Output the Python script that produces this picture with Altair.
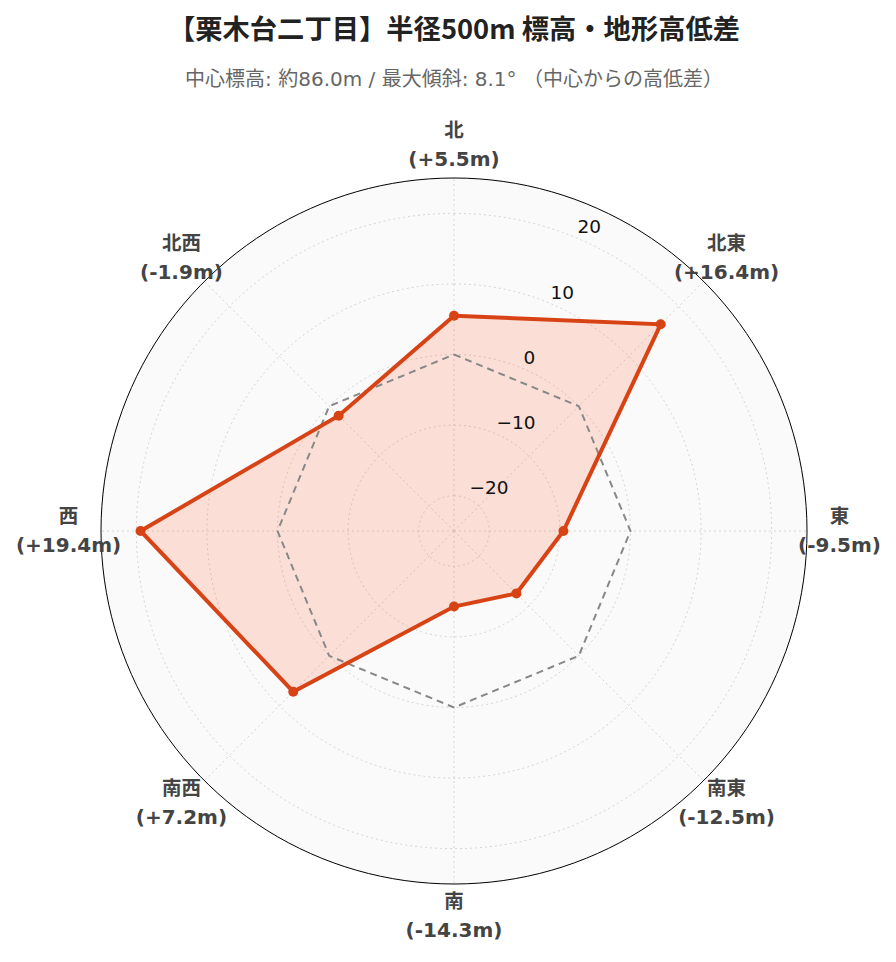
import altair as alt
import numpy as np
import pandas as pd

TITLE = "【栗木台二丁目】半径500m 標高・地形高低差"
SUBTITLE = "中心標高: 約86.0m / 最大傾斜: 8.1° （中心からの高低差）"

directions = ["北", "北東", "東", "南東", "南", "南西", "西", "北西"]
bearings = [0, 45, 90, 135, 180, 225, 270, 315]
diffs = [5.5, 16.4, -9.5, -12.5, -14.3, 7.2, 19.4, -1.9]
tick_values = [-20, -10, 0, 10, 20]
tick_labels = ["−20", "−10", "0", "10", "20"]
r_min, r_max = -25, 25
tick_bearing = 22.5
label_offset = 4.6

FONT = "Verdana, DejaVu Sans, Noto Sans CJK JP"
CJK = "Noto Sans CJK JP"
RED = "#D84315"

span = r_max - r_min
xs = alt.Scale(domain=[-span, span], nice=False, zero=False)
ys = alt.Scale(domain=[-span, span], nice=False, zero=False)

XY = "datum.dist * sin(datum.bearing * PI / 180)"
YY = "datum.dist * cos(datum.bearing * PI / 180)"


def xy(chart):
    return chart.transform_calculate(x=XY, y=YY)


enc_x = alt.X("x:Q", scale=xs, axis=None)
enc_y = alt.Y("y:Q", scale=ys, axis=None)

# radar data (closed)
radar = pd.DataFrame({
    "i": list(range(len(directions) + 1)),
    "bearing": bearings + [bearings[0]],
    "dist": [d - r_min for d in diffs + [diffs[0]]],
})
points = radar.iloc[:-1]

zero_ring = pd.DataFrame({
    "i": list(range(len(directions) + 1)),
    "bearing": bearings + [bearings[0]],
    "dist": [0 - r_min] * (len(directions) + 1),
})

# rings
ang = np.arange(0, 361, 2)
rings = pd.concat([
    pd.DataFrame({"ring": v, "bearing": ang, "dist": v - r_min}) for v in tick_values
])
outer = pd.DataFrame({"bearing": ang, "dist": span})

spokes = pd.DataFrame({"bearing": bearings, "dist": span})

labels = pd.DataFrame({
    "bearing": bearings,
    "dist": span + label_offset,
    "name": directions,
    "value": [f"({'+' if v >= 0 else ''}{v:.1f}m)" for v in diffs],
})

ticks = pd.DataFrame({
    "bearing": tick_bearing,
    "dist": [v - r_min for v in tick_values],
    "label": tick_labels,
})

background = xy(alt.Chart(outer)).mark_line(
    fill="#fafafa", stroke="black", strokeWidth=1
).encode(x=enc_x, y=enc_y, order=alt.Order("bearing:Q"))

ring_lines = xy(alt.Chart(rings)).mark_line(
    stroke="#d6d6d6", strokeWidth=1, strokeDash=[2, 3]
).encode(x=enc_x, y=enc_y, detail="ring:N", order=alt.Order("bearing:Q"))

spoke_lines = xy(alt.Chart(spokes)).mark_rule(
    stroke="#d6d6d6", strokeWidth=1, strokeDash=[2, 3]
).encode(x=alt.X("zero:Q", scale=xs, axis=None), y=alt.Y("zero:Q", scale=ys, axis=None),
         x2="x:Q", y2="y:Q").transform_calculate(zero="0")

fill_poly = xy(alt.Chart(radar)).mark_line(
    fill="#FF5722", fillOpacity=0.17, strokeWidth=0
).encode(x=enc_x, y=enc_y, order=alt.Order("i:Q"))

zero_line = xy(alt.Chart(zero_ring)).mark_line(
    stroke="#888888", strokeWidth=2, strokeDash=[7, 5]
).encode(x=enc_x, y=enc_y, order=alt.Order("i:Q"))

radar_line = xy(alt.Chart(radar)).mark_line(
    stroke=RED, strokeWidth=4, strokeJoin="miter"
).encode(x=enc_x, y=enc_y, order=alt.Order("i:Q"))

radar_pts = xy(alt.Chart(points)).mark_point(
    filled=True, color=RED, size=100, opacity=1, shape="circle"
).encode(x=enc_x, y=enc_y)

name_text = xy(alt.Chart(labels)).mark_text(
    font=CJK, fontSize=19.5, fontWeight="bold", color="#444444",
    align="center", baseline="middle", dy=-14.5
).encode(x=enc_x, y=enc_y, text="name:N")

value_text = xy(alt.Chart(labels)).mark_text(
    font=FONT, fontSize=20, fontWeight="bold", color="#444444",
    align="center", baseline="middle", dy=14.5
).encode(x=enc_x, y=enc_y, text="value:N")

tick_text = xy(alt.Chart(ticks)).mark_text(
    font=FONT, fontSize=18.5, color="#111111", align="left", baseline="alphabetic",
    dx=2, dy=-4
).encode(x=enc_x, y=enc_y, text="label:N")

chart = alt.layer(
    background, ring_lines, spoke_lines, fill_poly, zero_line, radar_line,
    radar_pts, name_text, value_text, tick_text
).properties(
    width=706, height=706,
    autosize=alt.AutoSizeParams(type="none"),
    padding={"left": 93, "top": 170, "right": 81, "bottom": 70},
    title=alt.Title(
        text=TITLE, subtitle=SUBTITLE, anchor="middle", frame="group",
        font=CJK, fontSize=27.3, fontWeight="bold", color="#222222",
        subtitleFont=FONT, subtitleFontSize=20, subtitleColor="#666666",
        subtitlePadding=26, offset=31,
    ),
).configure_view(stroke=None)

chart.save("out.html", embed_options={"renderer": "svg", "actions": False})
